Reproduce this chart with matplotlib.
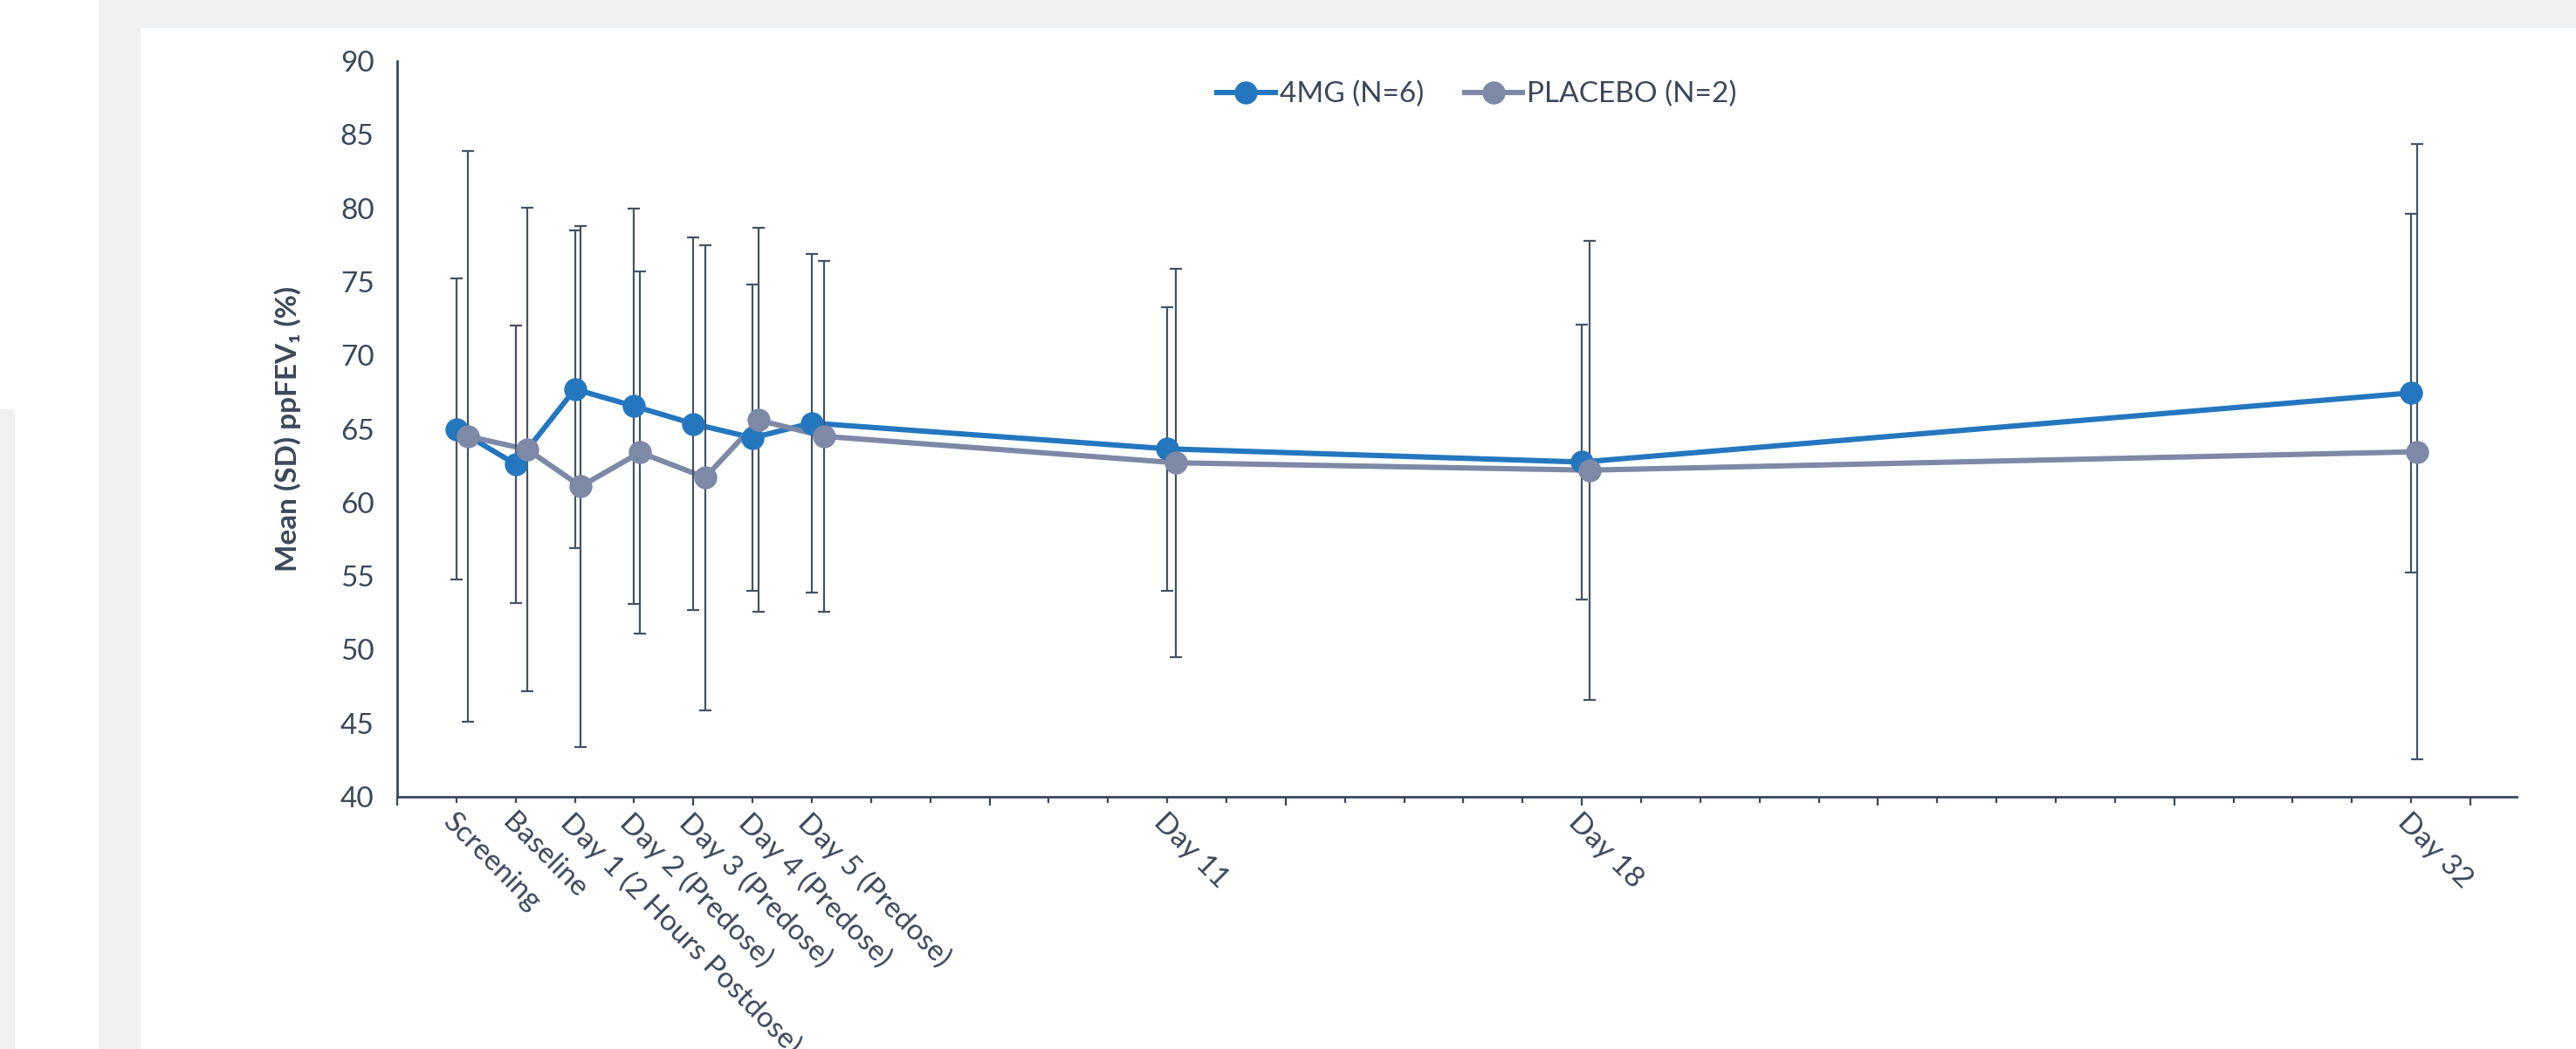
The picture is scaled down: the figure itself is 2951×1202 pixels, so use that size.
import matplotlib
matplotlib.use("Agg")
import matplotlib.pyplot as plt
from matplotlib.patches import Rectangle
from matplotlib.lines import Line2D
from matplotlib.ticker import MultipleLocator

# --- data ---
label_x = [1, 2, 3, 4, 5, 6, 7, 13, 20, 34]
labels = ["Screening", "Baseline", "Day 1 (2 Hours Postdose)", "Day 2 (Predose)",
          "Day 3 (Predose)", "Day 4 (Predose)", "Day 5 (Predose)",
          "Day 11", "Day 18", "Day 32"]

x_4mg = [1, 2, 3, 4, 5, 6, 7, 13, 20, 34]
mean_4mg = [65.0, 62.6, 67.7, 66.55, 65.35, 64.4, 65.4, 63.65, 62.75, 67.45]
sd_4mg = [10.25, 9.45, 10.8, 13.45, 12.65, 10.4, 11.5, 9.65, 9.35, 12.2]

x_pbo = [1.2, 2.2, 3.1, 4.1, 5.2, 6.1, 7.2, 13.15, 20.13, 34.1]
mean_pbo = [64.5, 63.6, 61.1, 63.4, 61.7, 65.6, 64.5, 62.7, 62.2, 63.45]
sd_pbo = [19.4, 16.45, 17.7, 12.3, 15.8, 13.05, 11.9, 13.2, 15.6, 20.9]

BLUE = '#2477BF'
GREY = '#7D89A6'
INK = '#3C4759'
BAR = '#465264'
PANEL = '#F0F1F3'
FONT = ['Lato', 'DejaVu Sans']

plt.rcParams['font.family'] = FONT

W, H = 2951, 1202
fig = plt.figure(figsize=(W / 100, H / 100), dpi=100)
fig.patch.set_facecolor('white')

# slide background pieces
fig.patches.append(Rectangle((113 / W, 1 - 32 / H), 1, 32 / H, transform=fig.transFigure,
                             facecolor=PANEL, edgecolor='none', zorder=0))
fig.patches.append(Rectangle((113 / W, 0), 48 / W, 1, transform=fig.transFigure,
                             facecolor=PANEL, edgecolor='none', zorder=0))
fig.patches.append(Rectangle((0, 0), 17 / W, 1 - 469 / H, transform=fig.transFigure,
                             facecolor=PANEL, edgecolor='none', zorder=0))

ax = fig.add_axes([455 / W, 1 - 913 / H, (2883 - 455) / W, (913 - 70) / H])
ax.set_facecolor('none')

LW = 4.4
MS = 19

# lines
ax.plot(x_4mg, mean_4mg, color=BLUE, lw=LW, zorder=2, solid_capstyle='round')
ax.plot(x_pbo, mean_pbo, color=GREY, lw=LW, zorder=2, solid_capstyle='round')

# error bars
ax.errorbar(x_4mg, mean_4mg, yerr=sd_4mg, fmt='none', ecolor=BAR, elinewidth=1.6,
            capsize=5, capthick=1.6, zorder=3)
ax.errorbar(x_pbo, mean_pbo, yerr=sd_pbo, fmt='none', ecolor=BAR, elinewidth=1.6,
            capsize=5, capthick=1.6, zorder=3)

# markers
ax.plot(x_4mg, mean_4mg, 'o', color=BLUE, ms=MS, mec='none', zorder=4)
ax.plot(x_pbo, mean_pbo, 'o', color=GREY, ms=MS, mec='none', zorder=4)

ax.set_xlim(0, 35.78)
ax.set_ylim(40, 90)
ax.set_yticks(range(40, 91, 5))
ax.tick_params(axis='y', length=0, pad=19, labelsize=24, labelcolor=INK)

ax.xaxis.set_major_locator(MultipleLocator(5))
ax.xaxis.set_minor_locator(MultipleLocator(1))
ax.tick_params(axis='x', which='major', length=7.5, width=1.6, color=INK, labelbottom=False)
ax.tick_params(axis='x', which='minor', length=5, width=1.6, color=INK)

for s in ['top', 'right']:
    ax.spines[s].set_visible(False)
for s in ['left', 'bottom']:
    ax.spines[s].set_color(INK)
    ax.spines[s].set_linewidth(2)

# category labels on a secondary axis
sec = ax.secondary_xaxis('bottom')
sec.set_xticks(label_x, labels)
sec.spines['bottom'].set_visible(False)
sec.tick_params(length=0, pad=10, labelsize=24, labelcolor=INK)
for t in sec.get_xticklabels():
    t.set_rotation(-45)
    t.set_ha('left')
    t.set_va('top')
    t.set_rotation_mode('anchor')

ax.set_ylabel('Mean (SD) ppFEV\u2081 (%)', fontsize=24, fontweight='bold', color=INK)
ax.yaxis.label.set_va('center')
ax.yaxis.set_label_coords((330 - 455) / (2883 - 455), 0.5)

handles = [Line2D([], [], color=BLUE, lw=LW, marker='o', ms=MS, mec='none'),
           Line2D([], [], color=GREY, lw=LW, marker='o', ms=MS, mec='none')]
fig.legend(handles, ['4MG (N=6)', 'PLACEBO (N=2)'], loc='center left',
           bbox_to_anchor=(1394 / W, 1 - 108 / H), ncol=2, frameon=False,
           fontsize=24, labelcolor=INK, handlelength=2.0, handletextpad=0.15,
           columnspacing=1.4, borderpad=0, borderaxespad=0)

fig.savefig('out.png', dpi=100, facecolor='white')
